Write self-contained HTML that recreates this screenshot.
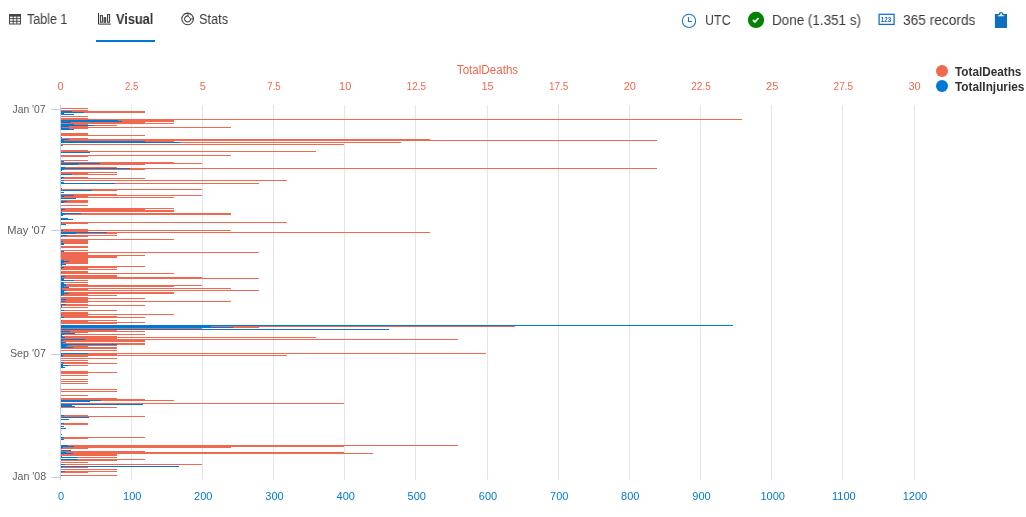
<!DOCTYPE html>
<html><head><meta charset="utf-8"><title>Visual</title>
<style>
html,body{margin:0;padding:0;background:#fff;}
body{width:1026px;height:517px;overflow:hidden;position:relative;font-family:"Liberation Sans",sans-serif;color:#323130;}
.t{position:absolute;white-space:nowrap;font-size:14px;line-height:16px;top:11px;color:#3b3a39;transform-origin:0 0;will-change:transform;}
svg text{font-family:"Liberation Sans",sans-serif;}
#chart{position:absolute;left:0;top:0;will-change:transform;}
</style></head><body>
<svg id="chart" width="1026" height="517" viewBox="0 0 1026 517" shape-rendering="crispEdges">
<g><rect x="131" y="105" width="1" height="375" fill="#e4e4e4"/><rect x="202" y="105" width="1" height="375" fill="#e4e4e4"/><rect x="273" y="105" width="1" height="375" fill="#e4e4e4"/><rect x="344" y="105" width="1" height="375" fill="#e4e4e4"/><rect x="415" y="105" width="1" height="375" fill="#e4e4e4"/><rect x="487" y="105" width="1" height="375" fill="#e4e4e4"/><rect x="558" y="105" width="1" height="375" fill="#e4e4e4"/><rect x="629" y="105" width="1" height="375" fill="#e4e4e4"/><rect x="700" y="105" width="1" height="375" fill="#e4e4e4"/><rect x="771" y="105" width="1" height="375" fill="#e4e4e4"/><rect x="842" y="105" width="1" height="375" fill="#e4e4e4"/><rect x="914" y="105" width="1" height="375" fill="#e4e4e4"/></g>
<g><rect x="61" y="108" width="27" height="1" fill="#EF6950"/><rect x="61" y="110" width="27" height="1" fill="#EF6950"/><rect x="61" y="111" width="84" height="1" fill="#EF6950"/><rect x="61" y="111" width="11" height="1" fill="#0078D4"/><rect x="61" y="112" width="84" height="1" fill="#EF6950"/><rect x="61" y="112" width="23" height="1" fill="#0078D4"/><rect x="61" y="113" width="3" height="1" fill="#0078D4"/><rect x="61" y="114" width="13" height="1" fill="#0078D4"/><rect x="61" y="116" width="27" height="1" fill="#EF6950"/><rect x="61" y="118" width="27" height="1" fill="#EF6950"/><rect x="61" y="119" width="681" height="1" fill="#EF6950"/><rect x="61" y="120" width="113" height="1" fill="#EF6950"/><rect x="61" y="120" width="57" height="1" fill="#0078D4"/><rect x="61" y="121" width="113" height="1" fill="#EF6950"/><rect x="61" y="121" width="61" height="1" fill="#0078D4"/><rect x="61" y="122" width="84" height="1" fill="#EF6950"/><rect x="61" y="122" width="10" height="1" fill="#0078D4"/><rect x="61" y="123" width="113" height="1" fill="#EF6950"/><rect x="61" y="124" width="27" height="1" fill="#EF6950"/><rect x="61" y="124" width="13" height="1" fill="#0078D4"/><rect x="61" y="125" width="56" height="1" fill="#EF6950"/><rect x="61" y="125" width="33" height="1" fill="#0078D4"/><rect x="61" y="126" width="27" height="1" fill="#EF6950"/><rect x="61" y="126" width="8" height="1" fill="#0078D4"/><rect x="61" y="127" width="170" height="1" fill="#EF6950"/><rect x="61" y="127" width="1" height="1" fill="#0078D4"/><rect x="61" y="128" width="27" height="1" fill="#EF6950"/><rect x="61" y="128" width="8" height="1" fill="#0078D4"/><rect x="61" y="129" width="13" height="1" fill="#0078D4"/><rect x="61" y="133" width="27" height="1" fill="#EF6950"/><rect x="61" y="134" width="27" height="1" fill="#EF6950"/><rect x="61" y="135" width="84" height="1" fill="#EF6950"/><rect x="61" y="137" width="1" height="1" fill="#0078D4"/><rect x="61" y="138" width="27" height="1" fill="#EF6950"/><rect x="61" y="139" width="369" height="1" fill="#EF6950"/><rect x="61" y="139" width="8" height="1" fill="#0078D4"/><rect x="61" y="140" width="596" height="1" fill="#EF6950"/><rect x="61" y="140" width="3" height="1" fill="#0078D4"/><rect x="61" y="141" width="113" height="1" fill="#EF6950"/><rect x="61" y="141" width="84" height="1" fill="#0078D4"/><rect x="61" y="142" width="340" height="1" fill="#EF6950"/><rect x="61" y="142" width="120" height="1" fill="#0078D4"/><rect x="61" y="144" width="283" height="1" fill="#EF6950"/><rect x="61" y="145" width="2" height="1" fill="#0078D4"/><rect x="61" y="150" width="27" height="1" fill="#EF6950"/><rect x="61" y="151" width="255" height="1" fill="#EF6950"/><rect x="61" y="152" width="29" height="1" fill="#0078D4"/><rect x="61" y="155" width="170" height="1" fill="#EF6950"/><rect x="61" y="156" width="27" height="1" fill="#EF6950"/><rect x="61" y="160" width="27" height="1" fill="#EF6950"/><rect x="61" y="161" width="3" height="1" fill="#0078D4"/><rect x="61" y="162" width="113" height="1" fill="#EF6950"/><rect x="61" y="163" width="141" height="1" fill="#EF6950"/><rect x="61" y="163" width="39" height="1" fill="#0078D4"/><rect x="61" y="164" width="84" height="1" fill="#EF6950"/><rect x="61" y="164" width="17" height="1" fill="#0078D4"/><rect x="61" y="167" width="56" height="1" fill="#EF6950"/><rect x="61" y="167" width="4" height="1" fill="#0078D4"/><rect x="61" y="168" width="596" height="1" fill="#EF6950"/><rect x="61" y="168" width="69" height="1" fill="#0078D4"/><rect x="61" y="169" width="84" height="1" fill="#EF6950"/><rect x="61" y="169" width="3" height="1" fill="#0078D4"/><rect x="61" y="170" width="1" height="1" fill="#0078D4"/><rect x="61" y="172" width="56" height="1" fill="#EF6950"/><rect x="61" y="173" width="27" height="1" fill="#EF6950"/><rect x="61" y="174" width="56" height="1" fill="#EF6950"/><rect x="61" y="174" width="11" height="1" fill="#0078D4"/><rect x="61" y="177" width="27" height="1" fill="#EF6950"/><rect x="61" y="177" width="3" height="1" fill="#0078D4"/><rect x="61" y="178" width="84" height="1" fill="#EF6950"/><rect x="61" y="178" width="1" height="1" fill="#0078D4"/><rect x="61" y="180" width="226" height="1" fill="#EF6950"/><rect x="61" y="180" width="3" height="1" fill="#0078D4"/><rect x="61" y="182" width="3" height="1" fill="#0078D4"/><rect x="61" y="183" width="198" height="1" fill="#EF6950"/><rect x="61" y="183" width="54" height="1" fill="#0078D4"/><rect x="61" y="188" width="1" height="1" fill="#0078D4"/><rect x="61" y="189" width="141" height="1" fill="#EF6950"/><rect x="61" y="190" width="56" height="1" fill="#EF6950"/><rect x="61" y="190" width="31" height="1" fill="#0078D4"/><rect x="61" y="192" width="3" height="1" fill="#0078D4"/><rect x="61" y="194" width="56" height="1" fill="#EF6950"/><rect x="61" y="195" width="141" height="1" fill="#EF6950"/><rect x="61" y="195" width="13" height="1" fill="#0078D4"/><rect x="61" y="196" width="27" height="1" fill="#EF6950"/><rect x="61" y="196" width="3" height="1" fill="#0078D4"/><rect x="61" y="197" width="113" height="1" fill="#EF6950"/><rect x="61" y="198" width="15" height="1" fill="#0078D4"/><rect x="61" y="200" width="27" height="1" fill="#EF6950"/><rect x="61" y="201" width="27" height="1" fill="#EF6950"/><rect x="61" y="201" width="6" height="1" fill="#0078D4"/><rect x="61" y="202" width="27" height="1" fill="#EF6950"/><rect x="61" y="202" width="3" height="1" fill="#0078D4"/><rect x="61" y="205" width="27" height="1" fill="#EF6950"/><rect x="61" y="208" width="113" height="1" fill="#EF6950"/><rect x="61" y="209" width="84" height="1" fill="#EF6950"/><rect x="61" y="209" width="4" height="1" fill="#0078D4"/><rect x="61" y="210" width="113" height="1" fill="#EF6950"/><rect x="61" y="210" width="1" height="1" fill="#0078D4"/><rect x="61" y="211" width="113" height="1" fill="#EF6950"/><rect x="61" y="212" width="1" height="1" fill="#0078D4"/><rect x="61" y="213" width="170" height="1" fill="#EF6950"/><rect x="61" y="213" width="20" height="1" fill="#0078D4"/><rect x="61" y="214" width="170" height="1" fill="#EF6950"/><rect x="61" y="214" width="4" height="1" fill="#0078D4"/><rect x="61" y="215" width="2" height="1" fill="#0078D4"/><rect x="61" y="218" width="7" height="1" fill="#0078D4"/><rect x="61" y="219" width="12" height="1" fill="#0078D4"/><rect x="61" y="222" width="226" height="1" fill="#EF6950"/><rect x="61" y="222" width="1" height="1" fill="#0078D4"/><rect x="61" y="223" width="27" height="1" fill="#EF6950"/><rect x="61" y="224" width="5" height="1" fill="#0078D4"/><rect x="61" y="229" width="27" height="1" fill="#EF6950"/><rect x="61" y="230" width="170" height="1" fill="#EF6950"/><rect x="61" y="230" width="2" height="1" fill="#0078D4"/><rect x="61" y="231" width="27" height="1" fill="#EF6950"/><rect x="61" y="232" width="369" height="1" fill="#EF6950"/><rect x="61" y="232" width="46" height="1" fill="#0078D4"/><rect x="61" y="233" width="56" height="1" fill="#EF6950"/><rect x="61" y="233" width="15" height="1" fill="#0078D4"/><rect x="61" y="235" width="56" height="1" fill="#EF6950"/><rect x="61" y="235" width="6" height="1" fill="#0078D4"/><rect x="61" y="236" width="27" height="1" fill="#EF6950"/><rect x="61" y="236" width="1" height="1" fill="#0078D4"/><rect x="61" y="239" width="113" height="1" fill="#EF6950"/><rect x="61" y="240" width="27" height="1" fill="#EF6950"/><rect x="61" y="241" width="27" height="1" fill="#EF6950"/><rect x="61" y="241" width="2" height="1" fill="#0078D4"/><rect x="61" y="242" width="27" height="1" fill="#EF6950"/><rect x="61" y="243" width="27" height="1" fill="#EF6950"/><rect x="61" y="243" width="3" height="1" fill="#0078D4"/><rect x="61" y="244" width="3" height="1" fill="#0078D4"/><rect x="61" y="246" width="27" height="1" fill="#EF6950"/><rect x="61" y="247" width="27" height="1" fill="#EF6950"/><rect x="61" y="250" width="27" height="1" fill="#EF6950"/><rect x="61" y="251" width="3" height="1" fill="#0078D4"/><rect x="61" y="252" width="198" height="1" fill="#EF6950"/><rect x="61" y="253" width="27" height="1" fill="#EF6950"/><rect x="61" y="254" width="27" height="1" fill="#EF6950"/><rect x="61" y="255" width="84" height="1" fill="#EF6950"/><rect x="61" y="256" width="56" height="1" fill="#EF6950"/><rect x="61" y="257" width="56" height="1" fill="#EF6950"/><rect x="61" y="258" width="27" height="1" fill="#EF6950"/><rect x="61" y="259" width="27" height="1" fill="#EF6950"/><rect x="61" y="260" width="27" height="1" fill="#EF6950"/><rect x="61" y="260" width="3" height="1" fill="#0078D4"/><rect x="61" y="261" width="27" height="1" fill="#EF6950"/><rect x="61" y="261" width="8" height="1" fill="#0078D4"/><rect x="61" y="262" width="27" height="1" fill="#EF6950"/><rect x="61" y="262" width="3" height="1" fill="#0078D4"/><rect x="61" y="263" width="27" height="1" fill="#EF6950"/><rect x="61" y="263" width="1" height="1" fill="#0078D4"/><rect x="61" y="264" width="5" height="1" fill="#0078D4"/><rect x="61" y="265" width="1" height="1" fill="#0078D4"/><rect x="61" y="266" width="84" height="1" fill="#EF6950"/><rect x="61" y="267" width="56" height="1" fill="#EF6950"/><rect x="61" y="267" width="3" height="1" fill="#0078D4"/><rect x="61" y="268" width="27" height="1" fill="#EF6950"/><rect x="61" y="268" width="1" height="1" fill="#0078D4"/><rect x="61" y="269" width="56" height="1" fill="#EF6950"/><rect x="61" y="271" width="27" height="1" fill="#EF6950"/><rect x="61" y="272" width="27" height="1" fill="#EF6950"/><rect x="61" y="272" width="1" height="1" fill="#0078D4"/><rect x="61" y="273" width="113" height="1" fill="#EF6950"/><rect x="61" y="275" width="56" height="1" fill="#EF6950"/><rect x="61" y="276" width="56" height="1" fill="#EF6950"/><rect x="61" y="276" width="4" height="1" fill="#0078D4"/><rect x="61" y="277" width="141" height="1" fill="#EF6950"/><rect x="61" y="277" width="1" height="1" fill="#0078D4"/><rect x="61" y="278" width="198" height="1" fill="#EF6950"/><rect x="61" y="278" width="3" height="1" fill="#0078D4"/><rect x="61" y="279" width="3" height="1" fill="#0078D4"/><rect x="61" y="280" width="27" height="1" fill="#EF6950"/><rect x="61" y="280" width="13" height="1" fill="#0078D4"/><rect x="61" y="282" width="27" height="1" fill="#EF6950"/><rect x="61" y="282" width="2" height="1" fill="#0078D4"/><rect x="61" y="283" width="3" height="1" fill="#0078D4"/><rect x="61" y="284" width="27" height="1" fill="#EF6950"/><rect x="61" y="284" width="5" height="1" fill="#0078D4"/><rect x="61" y="285" width="141" height="1" fill="#EF6950"/><rect x="61" y="285" width="5" height="1" fill="#0078D4"/><rect x="61" y="286" width="113" height="1" fill="#EF6950"/><rect x="61" y="286" width="3" height="1" fill="#0078D4"/><rect x="61" y="287" width="8" height="1" fill="#0078D4"/><rect x="61" y="288" width="170" height="1" fill="#EF6950"/><rect x="61" y="288" width="1" height="1" fill="#0078D4"/><rect x="61" y="289" width="27" height="1" fill="#EF6950"/><rect x="61" y="289" width="1" height="1" fill="#0078D4"/><rect x="61" y="290" width="198" height="1" fill="#EF6950"/><rect x="61" y="290" width="5" height="1" fill="#0078D4"/><rect x="61" y="291" width="3" height="1" fill="#0078D4"/><rect x="61" y="292" width="113" height="1" fill="#EF6950"/><rect x="61" y="292" width="3" height="1" fill="#0078D4"/><rect x="61" y="293" width="113" height="1" fill="#EF6950"/><rect x="61" y="293" width="8" height="1" fill="#0078D4"/><rect x="61" y="294" width="27" height="1" fill="#EF6950"/><rect x="61" y="294" width="3" height="1" fill="#0078D4"/><rect x="61" y="295" width="56" height="1" fill="#EF6950"/><rect x="61" y="295" width="1" height="1" fill="#0078D4"/><rect x="61" y="297" width="27" height="1" fill="#EF6950"/><rect x="61" y="298" width="84" height="1" fill="#EF6950"/><rect x="61" y="299" width="27" height="1" fill="#EF6950"/><rect x="61" y="299" width="5" height="1" fill="#0078D4"/><rect x="61" y="300" width="27" height="1" fill="#EF6950"/><rect x="61" y="301" width="170" height="1" fill="#EF6950"/><rect x="61" y="301" width="4" height="1" fill="#0078D4"/><rect x="61" y="302" width="27" height="1" fill="#EF6950"/><rect x="61" y="304" width="27" height="1" fill="#EF6950"/><rect x="61" y="304" width="5" height="1" fill="#0078D4"/><rect x="61" y="305" width="84" height="1" fill="#EF6950"/><rect x="61" y="305" width="1" height="1" fill="#0078D4"/><rect x="61" y="306" width="1" height="1" fill="#0078D4"/><rect x="61" y="307" width="27" height="1" fill="#EF6950"/><rect x="61" y="310" width="56" height="1" fill="#EF6950"/><rect x="61" y="310" width="3" height="1" fill="#0078D4"/><rect x="61" y="312" width="27" height="1" fill="#EF6950"/><rect x="61" y="313" width="27" height="1" fill="#EF6950"/><rect x="61" y="314" width="113" height="1" fill="#EF6950"/><rect x="61" y="314" width="1" height="1" fill="#0078D4"/><rect x="61" y="315" width="27" height="1" fill="#EF6950"/><rect x="61" y="316" width="56" height="1" fill="#EF6950"/><rect x="61" y="317" width="84" height="1" fill="#EF6950"/><rect x="61" y="317" width="3" height="1" fill="#0078D4"/><rect x="61" y="320" width="56" height="1" fill="#EF6950"/><rect x="61" y="320" width="1" height="1" fill="#0078D4"/><rect x="61" y="321" width="27" height="1" fill="#EF6950"/><rect x="61" y="322" width="84" height="1" fill="#EF6950"/><rect x="61" y="323" width="56" height="1" fill="#EF6950"/><rect x="61" y="325" width="672" height="1" fill="#0078D4"/><rect x="61" y="326" width="454" height="1" fill="#EF6950"/><rect x="61" y="326" width="150" height="1" fill="#0078D4"/><rect x="61" y="327" width="198" height="1" fill="#EF6950"/><rect x="61" y="327" width="172" height="1" fill="#0078D4"/><rect x="61" y="328" width="141" height="1" fill="#EF6950"/><rect x="61" y="329" width="328" height="1" fill="#0078D4"/><rect x="61" y="330" width="56" height="1" fill="#EF6950"/><rect x="61" y="331" width="84" height="1" fill="#EF6950"/><rect x="61" y="331" width="9" height="1" fill="#0078D4"/><rect x="61" y="332" width="27" height="1" fill="#EF6950"/><rect x="61" y="333" width="14" height="1" fill="#0078D4"/><rect x="61" y="334" width="84" height="1" fill="#EF6950"/><rect x="61" y="334" width="3" height="1" fill="#0078D4"/><rect x="61" y="335" width="1" height="1" fill="#0078D4"/><rect x="61" y="336" width="56" height="1" fill="#EF6950"/><rect x="61" y="336" width="2" height="1" fill="#0078D4"/><rect x="61" y="337" width="255" height="1" fill="#EF6950"/><rect x="61" y="337" width="4" height="1" fill="#0078D4"/><rect x="61" y="338" width="56" height="1" fill="#EF6950"/><rect x="61" y="339" width="397" height="1" fill="#EF6950"/><rect x="61" y="339" width="24" height="1" fill="#0078D4"/><rect x="61" y="340" width="84" height="1" fill="#EF6950"/><rect x="61" y="340" width="2" height="1" fill="#0078D4"/><rect x="61" y="341" width="84" height="1" fill="#EF6950"/><rect x="61" y="341" width="1" height="1" fill="#0078D4"/><rect x="61" y="342" width="5" height="1" fill="#0078D4"/><rect x="61" y="343" width="84" height="1" fill="#EF6950"/><rect x="61" y="343" width="2" height="1" fill="#0078D4"/><rect x="61" y="344" width="84" height="1" fill="#EF6950"/><rect x="61" y="344" width="56" height="1" fill="#0078D4"/><rect x="61" y="345" width="56" height="1" fill="#EF6950"/><rect x="61" y="345" width="7" height="1" fill="#0078D4"/><rect x="61" y="346" width="27" height="1" fill="#EF6950"/><rect x="61" y="346" width="5" height="1" fill="#0078D4"/><rect x="61" y="347" width="56" height="1" fill="#EF6950"/><rect x="61" y="347" width="12" height="1" fill="#0078D4"/><rect x="61" y="348" width="56" height="1" fill="#EF6950"/><rect x="61" y="350" width="56" height="1" fill="#EF6950"/><rect x="61" y="353" width="425" height="1" fill="#EF6950"/><rect x="61" y="353" width="27" height="1" fill="#0078D4"/><rect x="61" y="354" width="56" height="1" fill="#EF6950"/><rect x="61" y="354" width="1" height="1" fill="#0078D4"/><rect x="61" y="355" width="226" height="1" fill="#EF6950"/><rect x="61" y="355" width="2" height="1" fill="#0078D4"/><rect x="61" y="356" width="27" height="1" fill="#EF6950"/><rect x="61" y="356" width="2" height="1" fill="#0078D4"/><rect x="61" y="358" width="56" height="1" fill="#EF6950"/><rect x="61" y="360" width="27" height="1" fill="#EF6950"/><rect x="61" y="362" width="27" height="1" fill="#EF6950"/><rect x="61" y="362" width="3" height="1" fill="#0078D4"/><rect x="61" y="363" width="56" height="1" fill="#EF6950"/><rect x="61" y="364" width="2" height="1" fill="#0078D4"/><rect x="61" y="365" width="27" height="1" fill="#EF6950"/><rect x="61" y="365" width="8" height="1" fill="#0078D4"/><rect x="61" y="366" width="2" height="1" fill="#0078D4"/><rect x="61" y="367" width="4" height="1" fill="#0078D4"/><rect x="61" y="371" width="27" height="1" fill="#EF6950"/><rect x="61" y="372" width="56" height="1" fill="#EF6950"/><rect x="61" y="373" width="27" height="1" fill="#EF6950"/><rect x="61" y="375" width="27" height="1" fill="#EF6950"/><rect x="61" y="379" width="27" height="1" fill="#EF6950"/><rect x="61" y="381" width="27" height="1" fill="#EF6950"/><rect x="61" y="383" width="27" height="1" fill="#EF6950"/><rect x="61" y="389" width="56" height="1" fill="#EF6950"/><rect x="61" y="391" width="56" height="1" fill="#EF6950"/><rect x="61" y="395" width="27" height="1" fill="#EF6950"/><rect x="61" y="398" width="56" height="1" fill="#EF6950"/><rect x="61" y="399" width="84" height="1" fill="#EF6950"/><rect x="61" y="400" width="113" height="1" fill="#EF6950"/><rect x="61" y="400" width="40" height="1" fill="#0078D4"/><rect x="61" y="401" width="29" height="1" fill="#0078D4"/><rect x="61" y="403" width="283" height="1" fill="#EF6950"/><rect x="61" y="404" width="82" height="1" fill="#0078D4"/><rect x="61" y="405" width="11" height="1" fill="#0078D4"/><rect x="61" y="406" width="14" height="1" fill="#0078D4"/><rect x="61" y="407" width="56" height="1" fill="#EF6950"/><rect x="61" y="415" width="27" height="1" fill="#EF6950"/><rect x="61" y="415" width="3" height="1" fill="#0078D4"/><rect x="61" y="416" width="84" height="1" fill="#EF6950"/><rect x="61" y="417" width="28" height="1" fill="#0078D4"/><rect x="61" y="419" width="8" height="1" fill="#0078D4"/><rect x="61" y="423" width="27" height="1" fill="#EF6950"/><rect x="61" y="423" width="3" height="1" fill="#0078D4"/><rect x="61" y="424" width="27" height="1" fill="#EF6950"/><rect x="61" y="426" width="3" height="1" fill="#0078D4"/><rect x="61" y="428" width="5" height="1" fill="#0078D4"/><rect x="61" y="434" width="1" height="1" fill="#0078D4"/><rect x="61" y="437" width="84" height="1" fill="#EF6950"/><rect x="61" y="437" width="3" height="1" fill="#0078D4"/><rect x="61" y="438" width="27" height="1" fill="#EF6950"/><rect x="61" y="439" width="3" height="1" fill="#0078D4"/><rect x="61" y="445" width="397" height="1" fill="#EF6950"/><rect x="61" y="445" width="7" height="1" fill="#0078D4"/><rect x="61" y="446" width="283" height="1" fill="#EF6950"/><rect x="61" y="446" width="13" height="1" fill="#0078D4"/><rect x="61" y="447" width="170" height="1" fill="#EF6950"/><rect x="61" y="447" width="2" height="1" fill="#0078D4"/><rect x="61" y="448" width="27" height="1" fill="#EF6950"/><rect x="61" y="448" width="1" height="1" fill="#0078D4"/><rect x="61" y="450" width="10" height="1" fill="#0078D4"/><rect x="61" y="451" width="84" height="1" fill="#EF6950"/><rect x="61" y="452" width="283" height="1" fill="#EF6950"/><rect x="61" y="452" width="5" height="1" fill="#0078D4"/><rect x="61" y="453" width="312" height="1" fill="#EF6950"/><rect x="61" y="453" width="12" height="1" fill="#0078D4"/><rect x="61" y="454" width="56" height="1" fill="#EF6950"/><rect x="61" y="455" width="56" height="1" fill="#EF6950"/><rect x="61" y="456" width="1" height="1" fill="#0078D4"/><rect x="61" y="457" width="56" height="1" fill="#EF6950"/><rect x="61" y="457" width="17" height="1" fill="#0078D4"/><rect x="61" y="459" width="84" height="1" fill="#EF6950"/><rect x="61" y="459" width="17" height="1" fill="#0078D4"/><rect x="61" y="460" width="56" height="1" fill="#EF6950"/><rect x="61" y="462" width="27" height="1" fill="#EF6950"/><rect x="61" y="464" width="141" height="1" fill="#EF6950"/><rect x="61" y="464" width="4" height="1" fill="#0078D4"/><rect x="61" y="466" width="118" height="1" fill="#0078D4"/><rect x="61" y="467" width="27" height="1" fill="#EF6950"/><rect x="61" y="467" width="1" height="1" fill="#0078D4"/><rect x="61" y="469" width="56" height="1" fill="#EF6950"/><rect x="61" y="471" width="56" height="1" fill="#EF6950"/><rect x="61" y="471" width="4" height="1" fill="#0078D4"/><rect x="61" y="472" width="27" height="1" fill="#EF6950"/><rect x="61" y="475" width="56" height="1" fill="#EF6950"/><rect x="61" y="475" width="1" height="1" fill="#0078D4"/></g>
<rect x="60" y="105" width="1" height="375" fill="#c3cfe8"/>
<g shape-rendering="auto"><text x="60.5" y="90" text-anchor="middle" fill="#EF6950" font-size="11">0</text><text x="131.7" y="90" text-anchor="middle" fill="#EF6950" font-size="11" textLength="13.4" lengthAdjust="spacingAndGlyphs">2.5</text><text x="202.8" y="90" text-anchor="middle" fill="#EF6950" font-size="11">5</text><text x="274.0" y="90" text-anchor="middle" fill="#EF6950" font-size="11" textLength="13.4" lengthAdjust="spacingAndGlyphs">7.5</text><text x="345.2" y="90" text-anchor="middle" fill="#EF6950" font-size="11">10</text><text x="416.3" y="90" text-anchor="middle" fill="#EF6950" font-size="11" textLength="19.4" lengthAdjust="spacingAndGlyphs">12.5</text><text x="487.5" y="90" text-anchor="middle" fill="#EF6950" font-size="11">15</text><text x="558.7" y="90" text-anchor="middle" fill="#EF6950" font-size="11" textLength="19.4" lengthAdjust="spacingAndGlyphs">17.5</text><text x="629.8" y="90" text-anchor="middle" fill="#EF6950" font-size="11">20</text><text x="701.0" y="90" text-anchor="middle" fill="#EF6950" font-size="11" textLength="19.4" lengthAdjust="spacingAndGlyphs">22.5</text><text x="772.2" y="90" text-anchor="middle" fill="#EF6950" font-size="11">25</text><text x="843.3" y="90" text-anchor="middle" fill="#EF6950" font-size="11" textLength="19.4" lengthAdjust="spacingAndGlyphs">27.5</text><text x="914.5" y="90" text-anchor="middle" fill="#EF6950" font-size="11">30</text><text x="61.0" y="499.5" text-anchor="middle" fill="#0078D4" font-size="11">0</text><text x="132.2" y="499.5" text-anchor="middle" fill="#0078D4" font-size="11">100</text><text x="203.3" y="499.5" text-anchor="middle" fill="#0078D4" font-size="11">200</text><text x="274.5" y="499.5" text-anchor="middle" fill="#0078D4" font-size="11">300</text><text x="345.7" y="499.5" text-anchor="middle" fill="#0078D4" font-size="11">400</text><text x="416.8" y="499.5" text-anchor="middle" fill="#0078D4" font-size="11">500</text><text x="488.0" y="499.5" text-anchor="middle" fill="#0078D4" font-size="11">600</text><text x="559.2" y="499.5" text-anchor="middle" fill="#0078D4" font-size="11">700</text><text x="630.3" y="499.5" text-anchor="middle" fill="#0078D4" font-size="11">800</text><text x="701.5" y="499.5" text-anchor="middle" fill="#0078D4" font-size="11">900</text><text x="772.7" y="499.5" text-anchor="middle" fill="#0078D4" font-size="11">1000</text><text x="843.8" y="499.5" text-anchor="middle" fill="#0078D4" font-size="11">1100</text><text x="915.0" y="499.5" text-anchor="middle" fill="#0078D4" font-size="11">1200</text><rect x="51" y="109" width="10" height="1" fill="#c3cfe8"/><text x="45.5" y="112.7" text-anchor="end" fill="#605e5c" font-size="11" textLength="32.9" lengthAdjust="spacingAndGlyphs">Jan '07</text><rect x="51" y="230" width="10" height="1" fill="#c3cfe8"/><text x="45.9" y="233.8" text-anchor="end" fill="#605e5c" font-size="11" textLength="38.6" lengthAdjust="spacingAndGlyphs">May '07</text><rect x="51" y="354" width="10" height="1" fill="#c3cfe8"/><text x="45.9" y="356.9" text-anchor="end" fill="#605e5c" font-size="11" textLength="35.9" lengthAdjust="spacingAndGlyphs">Sep '07</text><rect x="51" y="477" width="10" height="1" fill="#c3cfe8"/><text x="46.2" y="479.9" text-anchor="end" fill="#605e5c" font-size="11" textLength="34.0" lengthAdjust="spacingAndGlyphs">Jan '08</text>
<text x="487.5" y="73.9" text-anchor="middle" fill="#EF6950" font-size="12" textLength="61.3" lengthAdjust="spacingAndGlyphs">TotalDeaths</text>
<circle cx="942" cy="71" r="6" fill="#EF6950"/><circle cx="942" cy="86" r="6" fill="#0078D4"/>
<text x="955" y="75.5" fill="#323130" font-size="12" font-weight="bold" textLength="66.4" lengthAdjust="spacingAndGlyphs">TotalDeaths</text>
<text x="955" y="90.5" fill="#323130" font-size="12" font-weight="bold" textLength="69.4" lengthAdjust="spacingAndGlyphs">TotalInjuries</text>
</g>
<!-- toolbar icons -->
<g shape-rendering="auto" fill="none" stroke="#484644" stroke-width="1">
<!-- table icon -->
<g transform="translate(9.5,14.5)"><rect x="0" y="0" width="11" height="9.5"/><rect x="0" y="0" width="11" height="1.6" fill="#484644"/><path d="M0 4.1H11M0 6.8H11M3.7 0V9.5M7.3 0V9.5"/></g>
<!-- bar chart icon -->
<g stroke="#323130" stroke-width="1"><path d="M98.5 13V24.1H110.8"/><rect x="100.4" y="15.6" width="2" height="6.6"/><rect x="104.1" y="17.7" width="1.6" height="4.5" fill="#a0a0a0"/><rect x="107.6" y="14.6" width="2" height="7.6"/></g>
<!-- stats icon -->
<g transform="translate(187.6,18.9)" stroke="#3b3a39" stroke-width="1.05"><circle r="5.8"/><path d="M3 0A3 3 0 1 1 0.4 -2.97"/><path d="M0.4 -5.8V-2.9L3 0H5.8" stroke-width="0.9"/></g>
<!-- clock -->
<g transform="translate(689,20.9)" stroke="#1576D0" stroke-width="1.05"><circle r="6.65"/><path d="M-0.5 -3.9V0.6H3.1" stroke-width="1.15"/></g>
<!-- done -->
<circle cx="756" cy="19.9" r="8.1" fill="#058205" stroke="none"/><path d="M753 20L755 22L758.5 18" stroke="#fff" stroke-width="1.8"/>
<!-- 123 icon -->
<rect x="879.1" y="14.3" width="15" height="10.1" stroke="#1B6EC8" stroke-width="1.3"/>
<!-- clipboard -->
<rect x="994.9" y="14" width="12.1" height="14" fill="#106EBE" stroke="none"/>
<path d="M998.8 14.5V13.7A2.2 1.8 0 0 1 1003.2 13.7V14.5Z" fill="#106EBE" stroke="none"/>
<path d="M1000.3 13.5Q1001.1 12.9 1001.9 13.5V14.8Q1002.3 15.3 1004.2 15.4V16.2H997.9V15.4Q999.9 15.3 1000.3 14.8Z" fill="#fff" stroke="none"/>
</g>
<text x="886.0" y="21.7" text-anchor="middle" font-size="6.5" fill="#1565C0" shape-rendering="auto" font-weight="bold" textLength="10.4" lengthAdjust="spacingAndGlyphs">123</text>
<rect x="96" y="40" width="59" height="2" fill="#0078D4"/>
</svg>
<div class="t" style="left:27.25px;top:11px;transform:scaleX(0.8943);">Table 1</div>
<div class="t" style="left:115.73px;top:11px;transform:scaleX(0.9109);font-weight:bold;color:#323130;">Visual</div>
<div class="t" style="left:198.73px;top:11px;transform:scaleX(0.9108);">Stats</div>
<div class="t" style="left:705.17px;top:12px;transform:scaleX(0.8905);">UTC</div>
<div class="t" style="left:772.12px;top:12px;transform:scaleX(0.9606);">Done (1.351 s)</div>
<div class="t" style="left:902.71px;top:12px;transform:scaleX(0.9782);">365 records</div>

</body></html>
